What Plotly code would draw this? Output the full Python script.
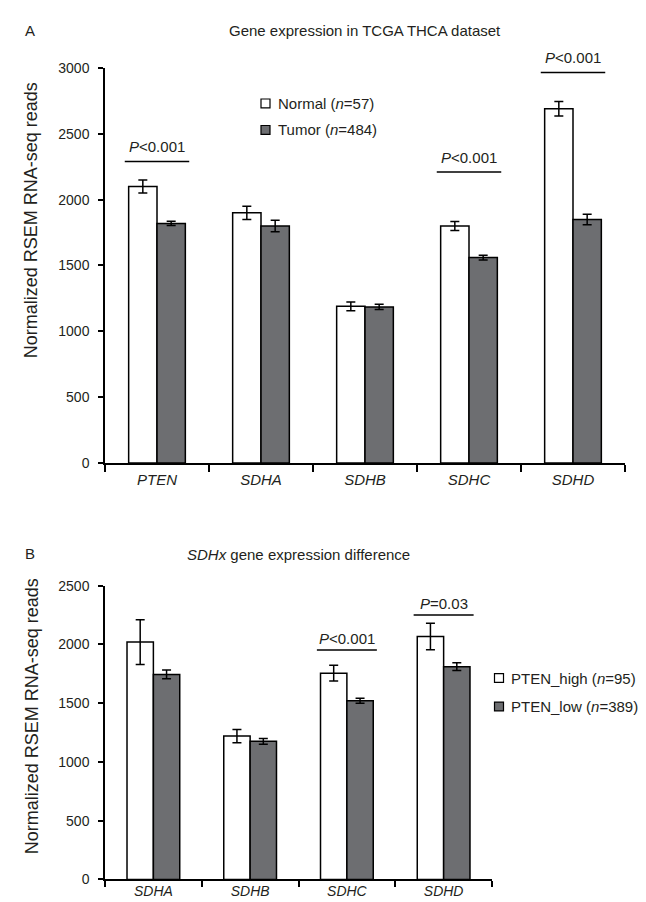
import plotly.graph_objects as go

# ---------------- data ----------------
genes_a = ["PTEN", "SDHA", "SDHB", "SDHC", "SDHD"]
normal_vals = [2100, 1900, 1190, 1800, 2690]
normal_err = [50, 50, 33, 35, 55]
tumor_vals = [1820, 1800, 1185, 1560, 1850]
tumor_err = [17, 44, 20, 18, 40]

genes_b = ["SDHA", "SDHB", "SDHC", "SDHD"]
high_vals = [2020, 1220, 1755, 2067]
high_err = [190, 56, 67, 113]
low_vals = [1745, 1175, 1521, 1811]
low_err = [38, 24, 22, 33]

p_a_genes = ["PTEN", "SDHC", "SDHD"]
p_a_levels = [2290, 2210, 2966]
p_a_text = ["<i>P</i>&lt;0.001", "<i>P</i>&lt;0.001", "<i>P</i>&lt;0.001"]

p_b_genes = ["SDHC", "SDHD"]
p_b_levels = [1953, 2251]
p_b_text = ["<i>P</i>&lt;0.001", "<i>P</i>=0.03"]

yticks_a = [0, 500, 1000, 1500, 2000, 2500, 3000]
yticks_b = [0, 500, 1000, 1500, 2000, 2500]

# ---------------- styling ----------------
W, H = 646, 902
FONT = "Liberation Sans, Arial, Helvetica, sans-serif"
TXT = "#231f20"
GRAY = "#6d6e71"


def px(x):
    return x / W


def py(y):
    return 1 - y / H


fig = go.Figure()

err_style = dict(type="data", color="black", thickness=1.5, width=4.5)
line_style = dict(color="black", width=1.5)

fig.add_trace(go.Bar(x=genes_a, y=normal_vals, name="Normal",
                     marker=dict(color="white", line=line_style),
                     error_y=dict(array=normal_err, **err_style),
                     xaxis="x", yaxis="y", showlegend=False))
fig.add_trace(go.Bar(x=genes_a, y=tumor_vals, name="Tumor",
                     marker=dict(color=GRAY, line=line_style),
                     error_y=dict(array=tumor_err, **err_style),
                     xaxis="x", yaxis="y", showlegend=False))
fig.add_trace(go.Bar(x=genes_b, y=high_vals, name="PTEN_high",
                     marker=dict(color="white", line=line_style),
                     error_y=dict(array=high_err, **err_style),
                     xaxis="x2", yaxis="y2", showlegend=False))
fig.add_trace(go.Bar(x=genes_b, y=low_vals, name="PTEN_low",
                     marker=dict(color=GRAY, line=line_style),
                     error_y=dict(array=low_err, **err_style),
                     xaxis="x2", yaxis="y2", showlegend=False))

xcommon = dict(showline=True, linecolor="black", linewidth=1.5, ticks="outside",
               tickwidth=1.5, tickcolor="black", tickson="boundaries",
               showgrid=False, zeroline=False, fixedrange=True)
ycommon = dict(showline=True, linecolor="black", linewidth=1.5, ticks="outside",
               ticklen=5, tickwidth=1.5, tickcolor="black",
               showgrid=False, zeroline=False, fixedrange=True,
               tickfont=dict(family=FONT, size=14, color=TXT),
               ticklabelstandoff=6)

fig.update_layout(
    width=W, height=H,
    margin=dict(l=0, r=0, t=0, b=0),
    paper_bgcolor="white", plot_bgcolor="white",
    barmode="group", bargap=0.455, bargroupgap=0,
    showlegend=False,
    font=dict(family=FONT, size=15, color=TXT),
    xaxis=dict(domain=[px(97), px(617)], anchor="y", range=[-0.5, 4.5],
               categoryorder="array", categoryarray=genes_a,
               ticklen=7, ticklabelstandoff=2,
               tickfont=dict(family=FONT, size=15, color=TXT, style="italic"),
               **xcommon),
    yaxis=dict(domain=[py(455), py(53)], anchor="x", range=[0, 3000],
               tickvals=yticks_a, **ycommon),
    xaxis2=dict(domain=[px(97), px(484)], anchor="y2", range=[-0.5, 3.5],
                categoryorder="array", categoryarray=genes_b,
                ticklen=6, ticklabelstandoff=-2,
                tickfont=dict(family=FONT, size=14, color=TXT, style="italic"),
                **xcommon),
    yaxis2=dict(domain=[py(879), py(580)], anchor="x2", range=[0, 2500],
                tickvals=yticks_b, **ycommon),
)

shapes = []
annotations = []

# significance lines + labels
for g, lvl, t in zip(p_a_genes, p_a_levels, p_a_text):
    i = genes_a.index(g)
    shapes.append(dict(type="line", xref="x", yref="y", x0=i - 0.31, x1=i + 0.31,
                       y0=lvl, y1=lvl, line=dict(color="black", width=1.5)))
    annotations.append(dict(xref="x", yref="y", x=g, y=lvl, text=t, showarrow=False,
                            yanchor="middle", yshift=15, font=dict(size=15)))
for g, lvl, t in zip(p_b_genes, p_b_levels, p_b_text):
    i = genes_b.index(g)
    shapes.append(dict(type="line", xref="x2", yref="y2", x0=i - 0.31, x1=i + 0.31,
                       y0=lvl, y1=lvl, line=dict(color="black", width=1.5)))
    annotations.append(dict(xref="x2", yref="y2", x=g, y=lvl, text=t, showarrow=False,
                            yanchor="middle", yshift=11, font=dict(size=15)))

# manual legends
legend_items = [
    (257.5, 89, "white", "Normal (<i>n</i>=57)"),
    (257.5, 116, GRAY, "Tumor (<i>n</i>=484)"),
    (491, 674, "white", "PTEN_high (<i>n</i>=95)"),
    (491, 703, GRAY, "PTEN_low (<i>n</i>=389)"),
]
for cx, cy, col, label in legend_items:
    shapes.append(dict(type="rect", xref="paper", yref="paper",
                       x0=px(cx - 4.5), x1=px(cx + 4.5), y0=py(cy + 4.5), y1=py(cy - 4.5),
                       fillcolor=col, line=dict(color="black", width=1.2)))
    annotations.append(dict(xref="paper", yref="paper", x=px(cx + 10), y=py(cy),
                            xanchor="left", yanchor="middle", text=label,
                            showarrow=False, font=dict(size=15)))

# panel letters and titles
annotations += [
    dict(xref="paper", yref="paper", x=px(22), y=py(15), text="A", showarrow=False,
         xanchor="center", yanchor="middle", font=dict(size=15)),
    dict(xref="paper", yref="paper", x=px(357), y=py(15),
         text="Gene expression in TCGA THCA dataset", showarrow=False,
         xanchor="center", yanchor="middle", font=dict(size=15)),
    dict(xref="paper", yref="paper", x=px(22), y=py(547), text="B", showarrow=False,
         xanchor="center", yanchor="middle", font=dict(size=15)),
    dict(xref="paper", yref="paper", x=px(290), y=py(548),
         text="<i>SDHx</i> gene expression difference", showarrow=False,
         xanchor="center", yanchor="middle", font=dict(size=15)),
    dict(xref="paper", yref="paper", x=px(23), y=py(208),
         text="Normalized RSEM RNA-seq reads", showarrow=False, textangle=-90,
         xanchor="center", yanchor="middle", font=dict(size=18)),
    dict(xref="paper", yref="paper", x=px(24), y=py(713),
         text="Normalized RSEM RNA-seq reads", showarrow=False, textangle=-90,
         xanchor="center", yanchor="middle", font=dict(size=18)),
]

fig.update_layout(shapes=shapes, annotations=annotations)
fig.write_html("out.html")
